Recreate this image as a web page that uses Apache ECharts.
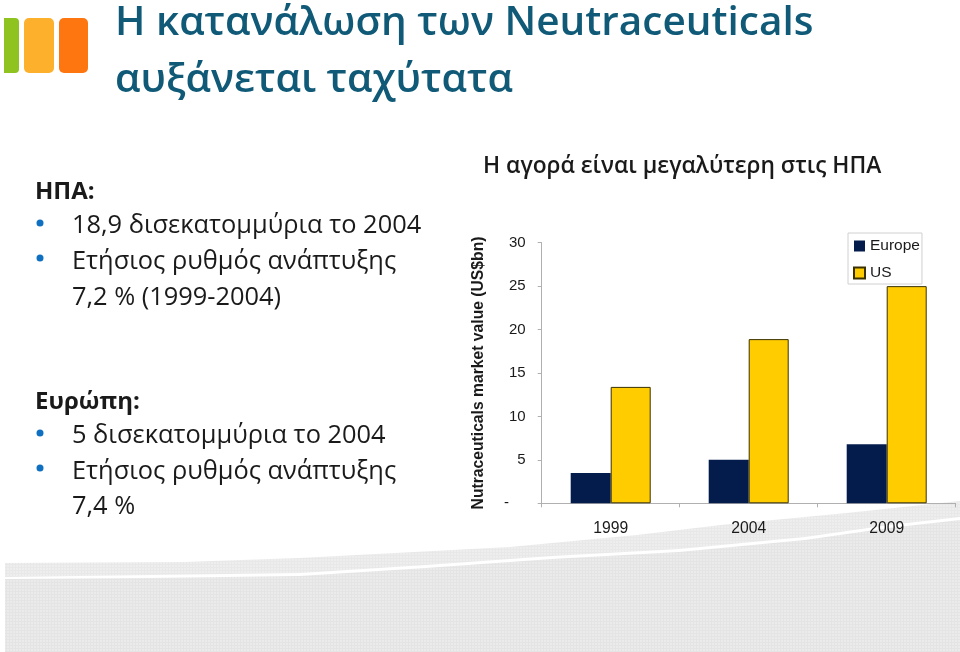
<!DOCTYPE html>
<html><head><meta charset="utf-8">
<style>html,body{margin:0;padding:0;background:#fff}#c{width:960px;height:652px}</style>
<script src="https://cdn.jsdelivr.net/npm/echarts@6/dist/echarts.min.js"></script>
</head><body><div id="c"></div>
<script>
const categories = ['1999','2004','2009'];
const europe = [3.5,5,6.8];
const us = [13.4,18.9,25];
const yTicks = {0:'-\u00a0\u00a0\u00a0\u00a0'};
const titleLines = ['Η κατανάλωση των Neutraceuticals','αυξάνεται ταχύτατα'];
const leftLines = [
 ['ΗΠΑ:',35,192,true],
 ['18,9 δισεκατομμύρια το 2004',72,226,false],
 ['Ετήσιος ρυθμός ανάπτυξης',72,262,false],
 ['7,2 % (1999-2004)',72,298,false],
 ['Ευρώπη:',35,402,true],
 ['5 δισεκατομμύρια το 2004',72,436,false],
 ['Ετήσιος ρυθμός ανάπτυξης',72,472,false],
 ['7,4 %',72,507,false]];
const bullets=[223,258,433,468];
const font='"Open Sans"';
function dots(bg,fg){
  const c=document.createElement('canvas');c.width=3;c.height=3;
  const x=c.getContext('2d');x.fillStyle=bg;x.fillRect(0,0,3,3);x.fillStyle=fg;
  x.fillRect(0,0,3,1);x.fillRect(0,0,1,3);
  return {image:c,repeat:'repeat'};
}
const g=[];
// backdrop
g.push({type:'polygon',silent:true,z:0,shape:{points:[[5,563],[185,562],[300,558],[510,547],[637,535],[721,525],[847,513],[960,501],[960,517],[889,525],[805,537],[679,549],[552,556],[426,565],[300,573],[150,575],[5,577]]},style:{fill:dots('#eeeeee','#e8e8e8')}});
g.push({type:'polygon',silent:true,z:0,shape:{points:[[5,579],[150,578],[300,576],[426,568],[552,559],[679,552],[805,540],[889,528],[960,520],[960,652],[5,652]]},style:{fill:dots('#ebebeb','#e4e4e4')}});
// logo
g.push({type:'rect',silent:true,shape:{x:4,y:18,width:15,height:55,r:[0,4,4,0]},style:{fill:'#8fc31f'}});
g.push({type:'rect',silent:true,shape:{x:24,y:18,width:30,height:55,r:5},style:{fill:'#fdb02c'}});
g.push({type:'rect',silent:true,shape:{x:59,y:18,width:29,height:55,r:5},style:{fill:'#fe7610'}});
titleLines.forEach((t,i)=>g.push({type:'text',silent:true,style:{text:t,x:115,y:23+i*57,font:'600 40.5px '+font,fill:'#105a78',textAlign:'left',textVerticalAlign:'middle'}}));
leftLines.forEach(l=>g.push({type:'text',silent:true,style:{text:l[0],x:l[1],y:l[2],font:(l[3]?'700 24px ':'25.4px ')+font,fill:'#1a1a1a',textVerticalAlign:'middle'}}));
bullets.forEach(y=>g.push({type:'circle',silent:true,shape:{cx:40,cy:y,r:3.5},style:{fill:'#0f6fc0'}}));
g.push({type:'text',silent:true,style:{text:'Η αγορά είναι μεγαλύτερη στις ΗΠΑ',x:483,y:167,font:'600 22.8px '+font,fill:'#1a1a1a',textVerticalAlign:'middle'}});
const chart=echarts.init(document.getElementById('c'),null,{renderer:'canvas'});
chart.setOption({
 animation:false,backgroundColor:'#fff',
 grid:{left:541.7,top:242.7,width:414,height:260.6,containLabel:false},
 legend:{show:true,data:['Europe','US'],icon:'rect',orient:'vertical',left:848,top:233,itemWidth:11,itemHeight:11,itemGap:11,padding:[5,2,3,5],borderColor:'#d0d0d0',borderWidth:1,backgroundColor:'#fff',textStyle:{fontFamily:'Liberation Sans',fontSize:15.5,color:'#1a1a1a'}},
 xAxis:{type:'category',data:categories,axisLine:{lineStyle:{color:'#b0b0b0'}},axisTick:{show:true,alignWithLabel:false,length:4,lineStyle:{color:'#b0b0b0'}},axisLabel:{fontFamily:'Liberation Sans',fontSize:15.7,color:'#1a1a1a',margin:17}},
 yAxis:{type:'value',min:0,max:30,interval:5,name:'Nutraceuticals market value (US$bn)',nameLocation:'middle',nameGap:55,nameTextStyle:{fontFamily:'Liberation Sans',fontWeight:'bold',fontSize:15.7,color:'#1a1a1a'},splitLine:{show:false},axisLine:{show:true,lineStyle:{color:'#b0b0b0'}},axisTick:{show:true,length:4,lineStyle:{color:'#b0b0b0'}},axisLabel:{fontFamily:'Liberation Sans',fontSize:15,color:'#1a1a1a',margin:16,formatter:v=>yTicks[v]||String(v)}},
 series:[
  {name:'Europe',type:'bar',data:europe,barWidth:40,barGap:0,z:3,itemStyle:{color:'#041c4c'}},
  {name:'US',type:'bar',data:us,barWidth:40,barGap:0,z:3,itemStyle:{color:'#ffcc00',borderColor:'#3a3000',borderWidth:1}}
 ],
 graphic:{elements:g}
});
</script></body></html>
